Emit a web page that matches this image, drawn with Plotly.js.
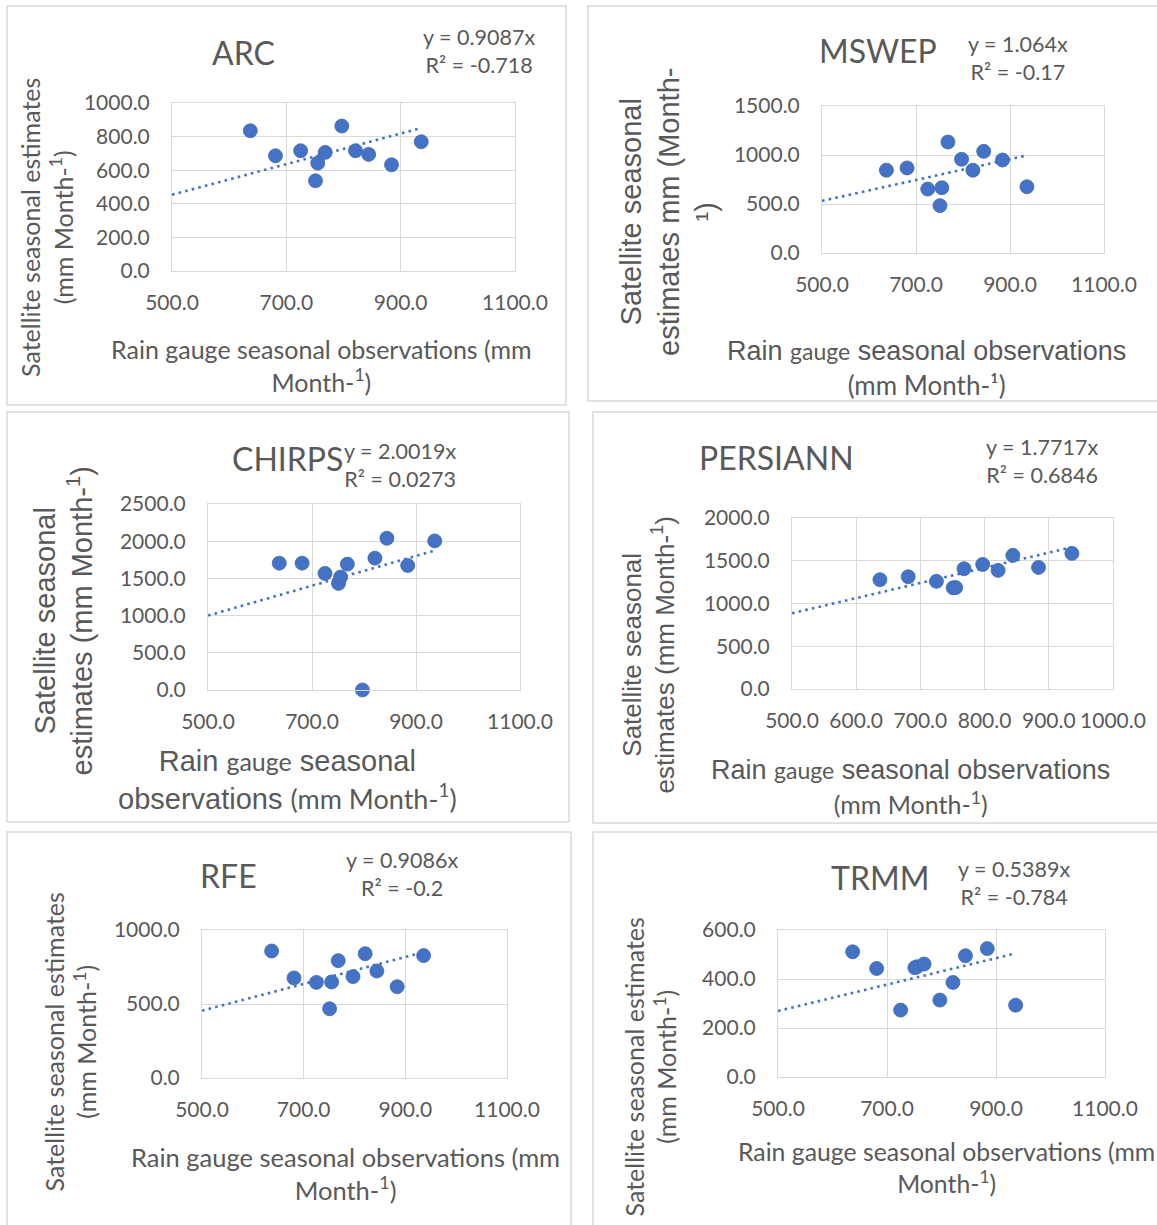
<!DOCTYPE html>
<html>
<head>
<meta charset="utf-8">
<script src="https://cdn.plot.ly/plotly-3.0.1.min.js"></script>
<style>
  html, body { margin: 0; padding: 0; background: #ffffff; }
  #chart { width: 1157px; height: 1225px; }
</style>
</head>
<body>
<div id="chart"></div>
<script>
// ---------------- DATA ----------------
const products = ['ARC', 'MSWEP', 'CHIRPS', 'PERSIANN', 'RFE', 'TRMM'];
// Rain gauge seasonal observations (mm Month-1), x values
const gaugeObs = [637, 681, 725, 751, 755, 768, 797, 821, 844, 884, 936];
// Satellite seasonal estimates (mm Month-1)
const arcEst      = [835, 686, 716, 537, 642, 706, 863, 716, 694, 632, 769];
const mswepEst    = [845, 868, 652, 483, 666, 1132, 956, 845, 1037, 949, 676];
const chirpsEst   = [1705, 1705, 1567, 1433, 1518, 1692, 0, 1772, 2040, 1674, 2004];
const persiannEst = [1278, 1313, 1259, 1183, 1186, 1407, 1457, 1387, 1563, 1422, 1586];
const rfeEst      = [858, 676, 646, 468, 649, 793, 685, 840, 723, 617, 827];
const trmmEst     = [511, 443, 273, 446, 450, 461, 314, 386, 495, 524, 293];
// Trendline equations shown on the chart (y = slope * x)
const slopes   = [0.9087, 1.064, 2.0019, 1.7717, 0.9086, 0.5389];
const slopeLabels = ['0.9087', '1.064', '2.0019', '1.7717', '0.9086', '0.5389'];
const r2Labels = ['-0.718', '-0.17', '0.0273', '0.6846', '-0.2', '-0.784'];
// trendline spans from axis start to the largest observation
const trendX = [500, 936];

const estimates = [arcEst, mswepEst, chirpsEst, persiannEst, rfeEst, trmmEst];

// ---------------- LAYOUT (pixel geometry) ----------------
const W = 1157, H = 1225;
const fx = p => p / W;
const fy = p => 1 - p / H;

const TXT = '#595959';
const BLUE = '#4472C4';
const GRID = '#D9D9D9';
const LATO = 'Lato, "Open Sans", sans-serif';
const ARIAL = '"Liberation Sans", Arial, sans-serif';

// plot areas: [left, right, top, bottom] in px, axis ranges & ticks
const panels = [
  {plot: [172, 515, 103, 271], xr: [500, 1100], xd: 200, yr: [0, 1000], yd: 200},
  {plot: [822, 1104, 106, 253], xr: [500, 1100], xd: 200, yr: [0, 1500], yd: 500},
  {plot: [208, 520, 504, 690], xr: [500, 1100], xd: 200, yr: [0, 2500], yd: 500},
  {plot: [792, 1113, 518, 689], xr: [500, 1000], xd: 100, yr: [0, 2000], yd: 500},
  {plot: [202, 507, 930, 1078], xr: [500, 1100], xd: 200, yr: [0, 1000], yd: 500},
  {plot: [778, 1105, 930, 1077], xr: [500, 1100], xd: 200, yr: [0, 600], yd: 200}
];

const data = [];
const layout = {
  width: W, height: H,
  margin: {l: 0, r: 0, t: 0, b: 0},
  paper_bgcolor: '#ffffff',
  plot_bgcolor: '#ffffff',
  showlegend: false,
  font: {family: LATO, color: TXT},
  annotations: [],
  shapes: []
};

products.forEach((name, i) => {
  const n = i + 1;
  const p = panels[i];
  const xa = 'xaxis' + (n === 1 ? '' : n);
  const ya = 'yaxis' + (n === 1 ? '' : n);
  const xr = 'x' + (n === 1 ? '' : n);
  const yr = 'y' + (n === 1 ? '' : n);
  layout[xa] = {
    domain: [fx(p.plot[0]), fx(p.plot[1])],
    anchor: yr,
    range: p.xr, tick0: 500, dtick: p.xd,
    tickformat: '.1f', tickangle: 0,
    showgrid: true, gridcolor: GRID, gridwidth: 1,
    zeroline: false,
    showline: true, linecolor: GRID, linewidth: 1, mirror: true,
    ticks: 'outside', ticklen: 13, tickcolor: 'rgba(0,0,0,0)',
    tickfont: {family: LATO, size: 21, color: TXT},
    fixedrange: true
  };
  layout[ya] = {
    domain: [fy(p.plot[3]), fy(p.plot[2])],
    anchor: xr,
    range: p.yr, tick0: 0, dtick: p.yd,
    tickformat: '.1f',
    showgrid: true, gridcolor: GRID, gridwidth: 1,
    zeroline: false,
    showline: true, linecolor: GRID, linewidth: 1, mirror: true,
    ticks: 'outside', ticklen: 17, tickcolor: 'rgba(0,0,0,0)',
    tickfont: {family: LATO, size: 21, color: TXT},
    fixedrange: true
  };
  // trendline (from the equation printed on the chart)
  data.push({
    type: 'scatter', mode: 'lines',
    x: trendX, y: trendX.map(v => slopes[i] * v),
    xaxis: xr, yaxis: yr,
    line: {color: BLUE, width: 2.6, dash: '2.6px,4.2px'},
    hoverinfo: 'skip', cliponaxis: false
  });
  data.push({
    type: 'scatter', mode: 'markers',
    x: gaugeObs, y: estimates[i],
    xaxis: xr, yaxis: yr,
    marker: {color: BLUE, size: 14, line: {color: '#3F6AB5', width: 0.8}},
    cliponaxis: false,
    name: name
  });
});

// panel borders
const borders = [
  [7, 566, 6, 405],
  [588, 1165, 6, 401],
  [7, 569, 412, 822],
  [593, 1165, 412, 823],
  [7, 571, 832, 1235],
  [593, 1165, 832, 1235]
];
borders.forEach(b => {
  layout.shapes.push({
    type: 'rect', xref: 'paper', yref: 'paper',
    x0: fx(b[0]), x1: fx(b[1]), y0: fy(b[3]), y1: fy(b[2]),
    line: {color: GRID, width: 1.5}, fillcolor: 'rgba(0,0,0,0)', layer: 'below'
  });
});

function ann(text, x, y, size, opts) {
  const o = Object.assign({
    text: text, x: fx(x), y: fy(y), xref: 'paper', yref: 'paper',
    xanchor: 'center', yanchor: 'middle', showarrow: false,
    align: 'center',
    font: {family: LATO, size: size, color: TXT}
  }, opts || {});
  if (opts && opts.family) { o.font.family = opts.family; delete o.family; }
  layout.annotations.push(o);
}

// chart titles
const titlePos = [[243, 53], [878, 50], [287, 458], [776, 457], [228, 875], [880, 877]];
products.forEach((name, i) => ann(name, titlePos[i][0], titlePos[i][1], 32));

// trendline equations
const eqPos = [[479, 51.5], [1018, 57.5], [400, 464.5], [1042, 461], [402, 874], [1014, 882.5]];
products.forEach((name, i) => {
  ann('y = ' + slopeLabels[i] + 'x<br>R² = ' + r2Labels[i], eqPos[i][0], eqPos[i][1], 21.5);
});

const sup1 = '<sup>1</sup>';
const small = (t, s) => '<span style="font-family:Lato;font-size:' + s + 'px">' + t + '</span>';

// ARC
ann('Rain gauge seasonal observations (mm<br>Month-' + sup1 + ')', 321, 365, 25);
ann('Satellite seasonal estimates<br>(mm Month-' + sup1 + ')', 46, 228, 25, {textangle: -90});
// MSWEP
ann('Rain ' + small('gauge', 23) + ' seasonal observations<br>' + small('(mm Month-¹)', 26), 926, 368, 27, {family: ARIAL});
ann('Satellite seasonal<br>estimates mm (Month-<br>¹)', 669, 212, 29, {textangle: -90, family: ARIAL});
// CHIRPS
ann('Rain ' + small('gauge', 25) + ' seasonal<br>observations ' + small('(mm Month-' + sup1 + ')', 27), 287, 780, 29, {family: ARIAL});
ann('Satellite seasonal<br>estimates (mm Month-' + sup1 + ')', 63.5, 621, 29, {textangle: -90, family: ARIAL});
// PERSIANN
ann('Rain ' + small('gauge', 23) + ' seasonal observations<br>' + small('(mm Month-' + sup1 + ')', 25), 910, 787, 27, {family: ARIAL});
ann('Satellite seasonal<br>estimates (mm Month-' + sup1 + ')', 648.5, 655, 26, {textangle: -90, family: ARIAL});
// RFE
ann('Rain gauge seasonal observations (mm<br>Month-' + sup1 + ')', 345, 1173, 25.5);
ann('Satellite seasonal estimates<br>(mm Month-' + sup1 + ')', 69.5, 1042, 25, {textangle: -90});
// TRMM
ann('Rain gauge seasonal observations (mm<br>Month-' + sup1 + ')', 946, 1167.5, 24.8);
ann('Satellite seasonal estimates<br>(mm Month-' + sup1 + ')', 649.5, 1067, 25, {textangle: -90});

Plotly.newPlot('chart', data, layout, {displayModeBar: false, staticPlot: true, responsive: false});
</script>
</body>
</html>
